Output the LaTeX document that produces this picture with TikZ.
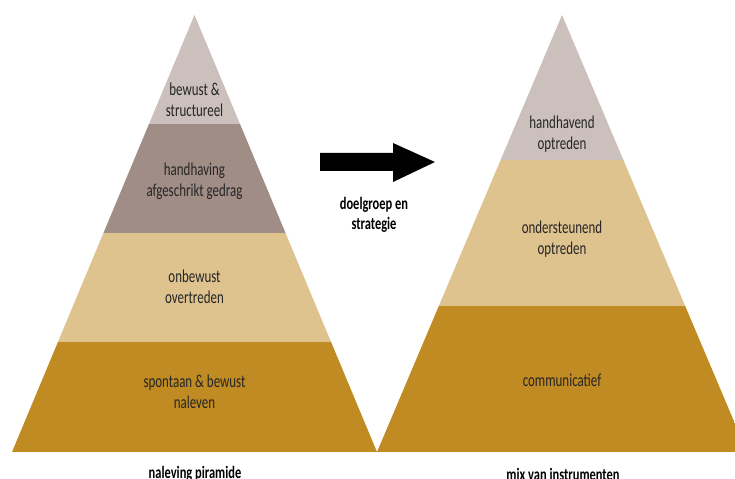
\documentclass[tikz,border=0pt]{standalone}
\usepackage{fontspec}
\setmainfont{Carlito}
\usepackage{xcolor}
\definecolor{topgrey}{HTML}{CBC0BC}
\definecolor{mauve}{HTML}{A08D86}
\definecolor{tan}{HTML}{DFC38F}
\definecolor{gold}{HTML}{C08B22}

\begin{document}
\begin{tikzpicture}[x=1bp,y=-1bp,
  lbl/.style={align=center,text=black!85,yscale=1.4,transform shape,font=\fontsize{13}{15}\selectfont},
  capt/.style={align=center,text=black,yscale=1.4,transform shape,font=\bfseries\fontsize{12.5}{14.5}\selectfont}]
\useasboundingbox (0,0) rectangle (735,479);
% left pyramid
\begin{scope}
\clip (194.5,15) -- (12,452) -- (377,452) -- cycle;
\fill[topgrey] (0,0) rectangle (400,124);
\fill[mauve] (0,124) rectangle (400,233);
\fill[tan] (0,233) rectangle (400,342);
\fill[gold] (0,342) rectangle (400,452);
\end{scope}
% right pyramid
\begin{scope}
\clip (562,15) -- (377,452) -- (747,452) -- cycle;
\fill[topgrey] (370,0) rectangle (760,160);
\fill[tan] (370,160) rectangle (760,306);
\fill[gold] (370,306) rectangle (760,452);
\end{scope}
% arrow
\fill[black] (320,153) -- (393,153) -- (393,143) -- (435,162) -- (393,182) -- (393,171) -- (320,171) -- cycle;
% labels
\node[lbl] (bewust) at (194.5,100) {bewust \&\\structureel};
\node[lbl] (handhaving) at (194.5,181) {handhaving\\afgeschrikt gedrag};
\node[lbl] (onbewust) at (194.5,287) {onbewust\\overtreden};
\node[lbl] (spontaan) at (194.5,392) {spontaan \& bewust\\naleven};
\node[lbl] (handhavend) at (562,134) {handhavend\\optreden};
\node[lbl] (ondersteunend) at (562,239) {ondersteunend\\optreden};
\node[lbl] (communicatief) at (562,380) {communicatief};
\node[capt] (doelgroep) at (374,215) {doelgroep en\\strategie};
\node[capt] (naleving) at (195,474) {naleving piramide};
\node[capt] (mix) at (563,474) {mix van instrumenten};
\end{tikzpicture}
\end{document}
